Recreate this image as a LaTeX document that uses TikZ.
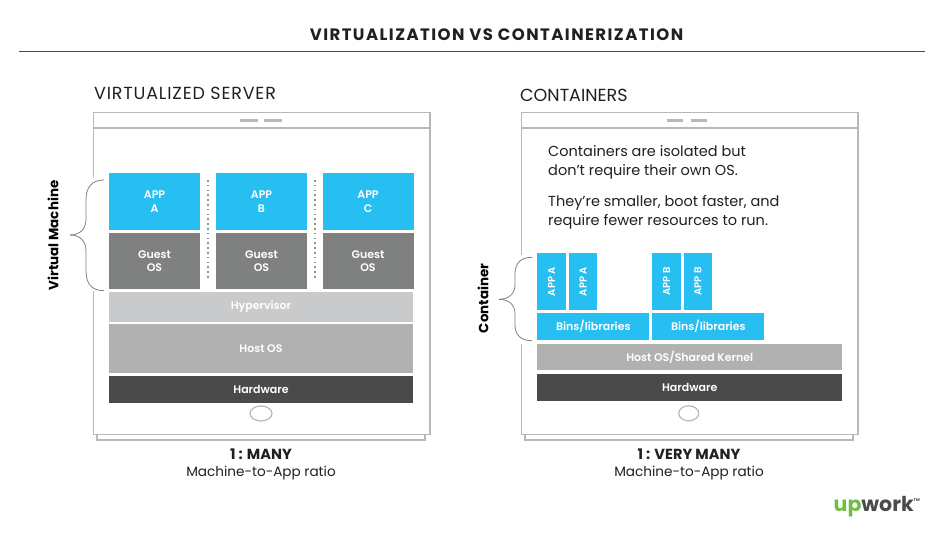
\documentclass[tikz,border=0pt]{standalone}
\usepackage{fontspec}
\usetikzlibrary{shapes.geometric}
\setmainfont{Poppins}
\newfontfamily\layerfont{Poppins SemiBold}
\definecolor{appblue}{HTML}{27BEF2}
\definecolor{guestgray}{HTML}{7F8080}
\definecolor{hypergray}{HTML}{C9CACC}
\definecolor{hostgray}{HTML}{B1B1B1}
\definecolor{hardgray}{HTML}{4A4A4A}
\definecolor{framegray}{HTML}{B8B8B8}
\definecolor{inkdark}{HTML}{231F20}
\definecolor{upgreen}{HTML}{6FBE44}
\tikzset{
    layer/.style={inner sep=0pt,text=white,font=\layerfont\fontsize{11}{13.2}\selectfont,align=center},
    framepart/.style={draw=framegray,line width=1.6pt},
    bracepart/.style={draw=gray,line width=0.8pt},
    heading/.style={text=inkdark,font=\fontsize{17.5}{20}\selectfont,anchor=west,inner sep=0pt},
    ratio/.style={text=inkdark,font=\fontsize{13.6}{16}\selectfont},
    ratiohead/.style={text=inkdark,font=\bfseries\fontsize{14.6}{17}\selectfont},
    sidelabel/.style={text=black,font=\bfseries\fontsize{13.4}{15}\selectfont,rotate=90},
    notetext/.style={text=inkdark,font=\fontsize{14.5}{19}\selectfont,anchor=north west,inner sep=0pt,align=left}
}
\begin{document}
\begin{tikzpicture}[x=1pt,y=-1pt]
    \useasboundingbox (0,0) rectangle (940,536);

    % title
    \node[text=inkdark,font=\bfseries\fontsize{16.5}{18}\selectfont\addfontfeature{LetterSpace=8.7}] (title) at (496.5,34.5) {VIRTUALIZATION VS CONTAINERIZATION};
    \draw[hardgray,line width=1pt] (19,51) -- (925,51);

    % left tablet
    \node[heading,font=\fontsize{17.5}{20}\selectfont\addfontfeature{LetterSpace=4.7}] (vserver) at (94,93) {VIRTUALIZED SERVER};
    \draw[framepart,line width=1.2pt] (97,434) -- (97,440) -- (425,440) -- (425,434);
    \draw[framepart,fill=white] (93.5,112.5) rectangle (430,434.5);
    \draw[framepart] (93.5,128) -- (430,128);
    \draw[framepart,line width=3pt] (240,120) -- (258,120) (264,120) -- (282,120);
    \node[draw=framegray,line width=1.2pt,ellipse,minimum width=22pt,minimum height=15pt,inner sep=0pt] (lefthome) at (261,413.5) {};

    % app and guest columns
    \foreach \col/\cx/\name in {a/154.5/A,b/261.5/B,c/368/C} {
        \node[layer,fill=appblue,minimum width=91pt,minimum height=56.7pt] (app\col) at (\cx,201.6) {APP\\\name};
        \node[layer,fill=guestgray,minimum width=91pt,minimum height=56.3pt] (guest\col) at (\cx,260.8) {\raisebox{-1pt}{Guest}\\\raisebox{-1pt}{OS}};
    }
    \foreach \dx in {208,315}
        \draw[framegray!80!black,line width=1.2pt,dash pattern=on 1.5pt off 3.3pt] (\dx,180) -- (\dx,279);

    \node[layer,fill=hypergray,minimum width=304.5pt,minimum height=29.7pt] (hyper) at (261,306.8) {Hypervisor};
    \node[layer,fill=hostgray,minimum width=304.5pt,minimum height=48.4pt] (hostos) at (261,348.5) {Host OS};
    \node[layer,fill=hardgray,minimum width=304.5pt,minimum height=27.3pt] (hardleft) at (261,389.7) {Hardware};

    % virtual machine brace
    \fill[white] (88,178) rectangle (100,291);
    \coordinate (vmtop) at (104,180);
    \coordinate (vmtip) at (70,235);
    \coordinate (vmbot) at (104,290.7);
    \draw[bracepart] (vmtop) .. controls (92,180) and (86,187) .. (86,200) -- (86,219) .. controls (86,229) and (80,235) .. (vmtip);
    \draw[bracepart] (vmtip) .. controls (80,235) and (86,241) .. (86,251) -- (86,271) .. controls (86,284) and (92,290.7) .. (vmbot);
    \node[sidelabel] (vmlabel) at (53,235.5) {Virtual Machine};

    \node[ratiohead] (leftratio) at (261,454) {1 : MANY};
    \node[ratio] (leftsub) at (261,473) {Machine-to-App ratio};

    % right tablet
    \node[heading] (contain) at (520,95) {CONTAINERS};
    \draw[framepart,line width=1.2pt] (525,434) -- (525,440) -- (853,440) -- (853,434);
    \draw[framepart,fill=white] (521.5,112.5) rectangle (858,434.5);
    \draw[framepart] (521.5,128) -- (858,128);
    \draw[framepart,line width=3pt] (667,120) -- (683,120) (691,120) -- (707,120);
    \node[draw=framegray,line width=1.2pt,ellipse,minimum width=20pt,minimum height=15pt,inner sep=0pt] (righthome) at (688.7,413.3) {};

    \node[notetext] (noteone) at (548,145) {Containers are isolated but\\don’t require their own OS.};
    \node[notetext] (notetwo) at (548,195) {They’re smaller, boot faster, and\\require fewer resources to run.};

    % container stacks
    \foreach \col/\cx/\name in {aa/551.7/A,ab/583/A,ba/666.5/B,bb/697.9/B}
        \node[layer,fill=appblue,minimum width=28.5pt,minimum height=56.7pt] (app\col) at (\cx,281.6) {\rotatebox{90}{\fontsize{10}{11}\selectfont APP \name}};
    \node[layer,fill=appblue,minimum width=112pt,minimum height=26.7pt] (binsa) at (593.3,326.6) {Bins/libraries};
    \node[layer,fill=appblue,minimum width=112pt,minimum height=26.7pt] (binsb) at (708.3,326.6) {Bins/libraries};
    \node[layer,fill=hostgray,minimum width=304.7pt,minimum height=26.7pt] (shared) at (689.7,357) {Host OS/Shared Kernel};
    \node[layer,fill=hardgray,minimum width=304.7pt,minimum height=26.7pt] (hardright) at (689.7,387.4) {Hardware};

    % container brace
    \fill[white] (516,255) rectangle (528,344);
    \coordinate (cttop) at (532,257.3);
    \coordinate (cttip) at (499,299.3);
    \coordinate (ctbot) at (532,340.7);
    \draw[bracepart] (cttop) .. controls (521,257.3) and (515,263) .. (515,274) -- (515,285) .. controls (515,294) and (508,299.3) .. (cttip);
    \draw[bracepart] (cttip) .. controls (508,299.3) and (515,304) .. (515,314) -- (515,325) .. controls (515,335) and (521,340.7) .. (ctbot);
    \node[sidelabel] (ctlabel) at (483,298.5) {Container};

    \node[ratiohead] (rightratio) at (689,454) {1 : VERY MANY};
    \node[ratio] (rightsub) at (689,473) {Machine-to-App ratio};

    % logo
    \node[anchor=base west,inner sep=0pt,font=\bfseries\fontsize{20.5}{24}\selectfont] (logo) at (833.5,511) {\textcolor{upgreen}{up}\textcolor{hardgray}{work}\raisebox{10pt}{\textcolor{hardgray}{\fontsize{4}{4}\selectfont TM}}};
\end{tikzpicture}
\end{document}
